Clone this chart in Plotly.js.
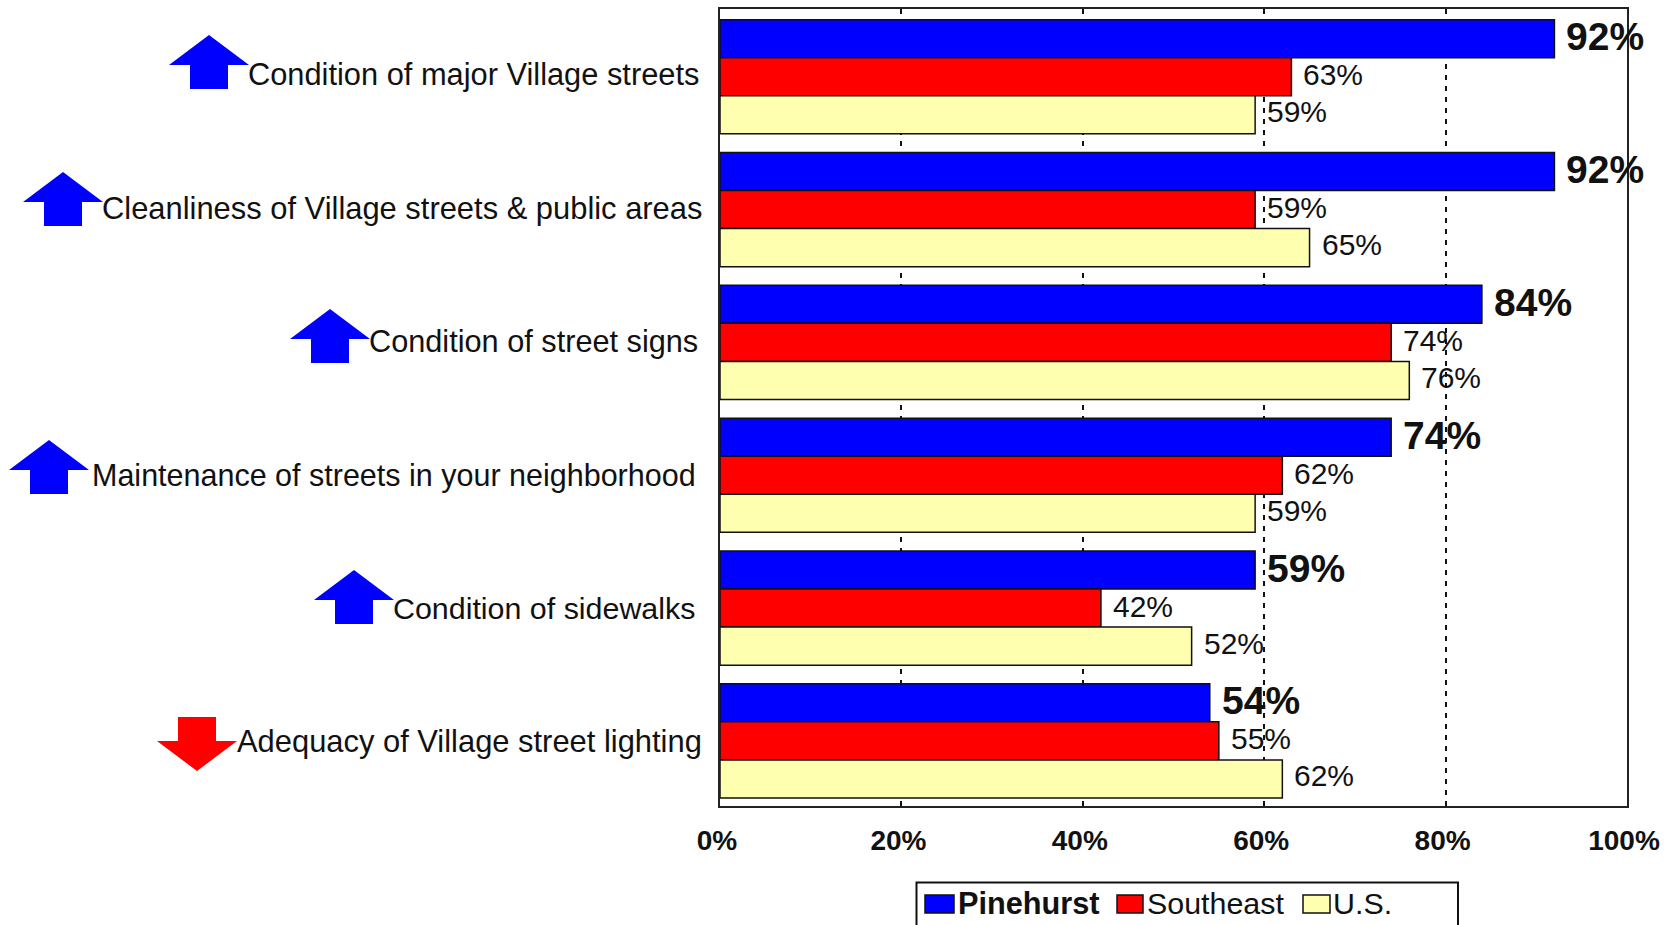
<!DOCTYPE html>
<html>
<head>
<meta charset="utf-8">
<script src="https://cdn.plot.ly/plotly-3.0.1.min.js"></script>
<style>html,body{margin:0;padding:0;background:#fff;overflow:hidden}#chart{width:1671px;height:925px}</style>
</head>
<body>
<div id="chart"></div>
<script>
const categories = [
  "Condition of major Village streets",
  "Cleanliness of Village streets & public areas",
  "Condition of street signs",
  "Maintenance of streets in your neighborhood",
  "Condition of sidewalks",
  "Adequacy of Village street lighting"
];
const pinehurst = [92, 92, 84, 74, 59, 54];
const southeast = [63, 59, 74, 62, 42, 55];
const us = [59, 65, 76, 59, 52, 62];
const trends = ["up", "up", "up", "up", "up", "down"];
const seriesNames = ["Pinehurst", "Southeast", "U.S."];
const seriesColors = ["#0000FF", "#FF0000", "#FFFFB0"];
const xTicks = [0, 20, 40, 60, 80, 100];

const W = 1671, H = 925;
const M = {l: 720, r: 44, t: 9, b: 119};
const PW = W - M.l - M.r, PH = H - M.t - M.b;
const px = x => (x - M.l) / PW;
const py = y => 1 - (y - M.t) / PH;

const labelRight = [701, 704, 700, 698, 697, 704];
const labelSizes = [30.8, 30.9, 30.7, 30.5, 30.4, 30.9];
const labelNudge = [2.5, 1.5, 0.5, -0.5, 0.5, -0.5];
const arrowCx = [209, 63, 330, 49, 354, 197];
const arrowTop = [35, 172, 309, 440, 570, 717];

const allSeries = [pinehurst, southeast, us];
const traces = allSeries.map((vals, i) => ({
  type: "bar", orientation: "h", name: seriesNames[i],
  y: categories, x: vals,
  marker: {color: seriesColors[i], line: {color: "#111", width: 1.5}},
  cliponaxis: false, hoverinfo: "x+y"
}));

const annotations = [];
const labelYShift = [38, 0, -38];
const labelYAdj = [2, 2, 3];
allSeries.forEach((vals, s) => vals.forEach((v, c) => {
  annotations.push({
    xref: "x", yref: "y", x: v, y: categories[c], xanchor: "left", yanchor: "middle",
    xshift: s === 0 ? 10 : 10, yshift: labelYShift[s] + labelYAdj[s], showarrow: false,
    text: s === 0 ? "<b>" + v + "%</b>" : v + "%",
    font: {family: "Liberation Sans, Arial, sans-serif", size: s === 0 ? 39 : 30, color: "#111"}
  });
}));
categories.forEach((c, i) => annotations.push({
  xref: "paper", yref: "y", x: px(labelRight[i]), y: c, xanchor: "right", yanchor: "middle",
  yshift: labelNudge[i], showarrow: false, text: c.replace("&", "&amp;"),
  font: {family: "Liberation Sans, Arial, sans-serif", size: labelSizes[i], color: "#111"}
}));

const shapes = [];
trends.forEach((t, i) => {
  const cx = arrowCx[i], top = arrowTop[i];
  const pts = t === "up"
    ? [[cx, top], [cx + 40, top + 30], [cx + 19, top + 30], [cx + 19, top + 54], [cx - 19, top + 54], [cx - 19, top + 30], [cx - 40, top + 30]]
    : [[cx, top + 54], [cx + 40, top + 24], [cx + 19, top + 24], [cx + 19, top], [cx - 19, top], [cx - 19, top + 24], [cx - 40, top + 24]];
  shapes.push({
    type: "path", xref: "paper", yref: "paper",
    path: "M" + pts.map(p => px(p[0]) + "," + py(p[1])).join("L") + "Z",
    fillcolor: t === "up" ? "#0000FF" : "#FF0000", line: {width: 0}
  });
});

// legend
shapes.push({type: "rect", xref: "paper", yref: "paper", x0: px(916.5), x1: px(1458), y0: py(882.5), y1: py(945),
  line: {color: "#111", width: 2}, fillcolor: "#fff"});
const swatchX = [[925, 954], [1117, 1143], [1303, 1330]];
const legendTextX = [956, 1145, 1331];
seriesNames.forEach((n, i) => {
  shapes.push({type: "rect", xref: "paper", yref: "paper", x0: px(swatchX[i][0]), x1: px(swatchX[i][1]), y0: py(895), y1: py(913),
    line: {color: "#111", width: 1.5}, fillcolor: seriesColors[i]});
  annotations.push({xref: "paper", yref: "paper", x: px(legendTextX[i]), y: py(903), xanchor: "left", yanchor: "middle",
    showarrow: false, text: i === 0 ? "<b>" + n + "</b>" : n,
    font: {family: "Liberation Sans, Arial, sans-serif", size: i === 0 ? 30.7 : 30.4, color: "#111"}});
});

const layout = {
  width: W, height: H, margin: M, autosize: false, showlegend: false,
  paper_bgcolor: "#fff", plot_bgcolor: "#fff",
  barmode: "group", bargap: 0.14, bargroupgap: 0,
  xaxis: {
    range: [0, 100], tickmode: "array", tickvals: xTicks, ticktext: xTicks.map(v => v + "%"),
    showgrid: true, griddash: "5px,6px", gridcolor: "#111", gridwidth: 2, zeroline: false,
    showline: true, mirror: true, linecolor: "#222", linewidth: 2, ticks: "",
    ticklabelstandoff: 8, ticklabelshift: -3,
    tickfont: {family: "Liberation Sans, Arial, sans-serif", size: 28, color: "#111", weight: 700}
  },
  yaxis: {
    type: "category", range: [5.49, -0.51], showticklabels: false, ticks: "",
    showgrid: false, zeroline: false, showline: true, mirror: true, linecolor: "#222", linewidth: 2
  },
  annotations, shapes
};
Plotly.newPlot("chart", traces, layout, {displayModeBar: false, staticPlot: true});
</script>
</body>
</html>
